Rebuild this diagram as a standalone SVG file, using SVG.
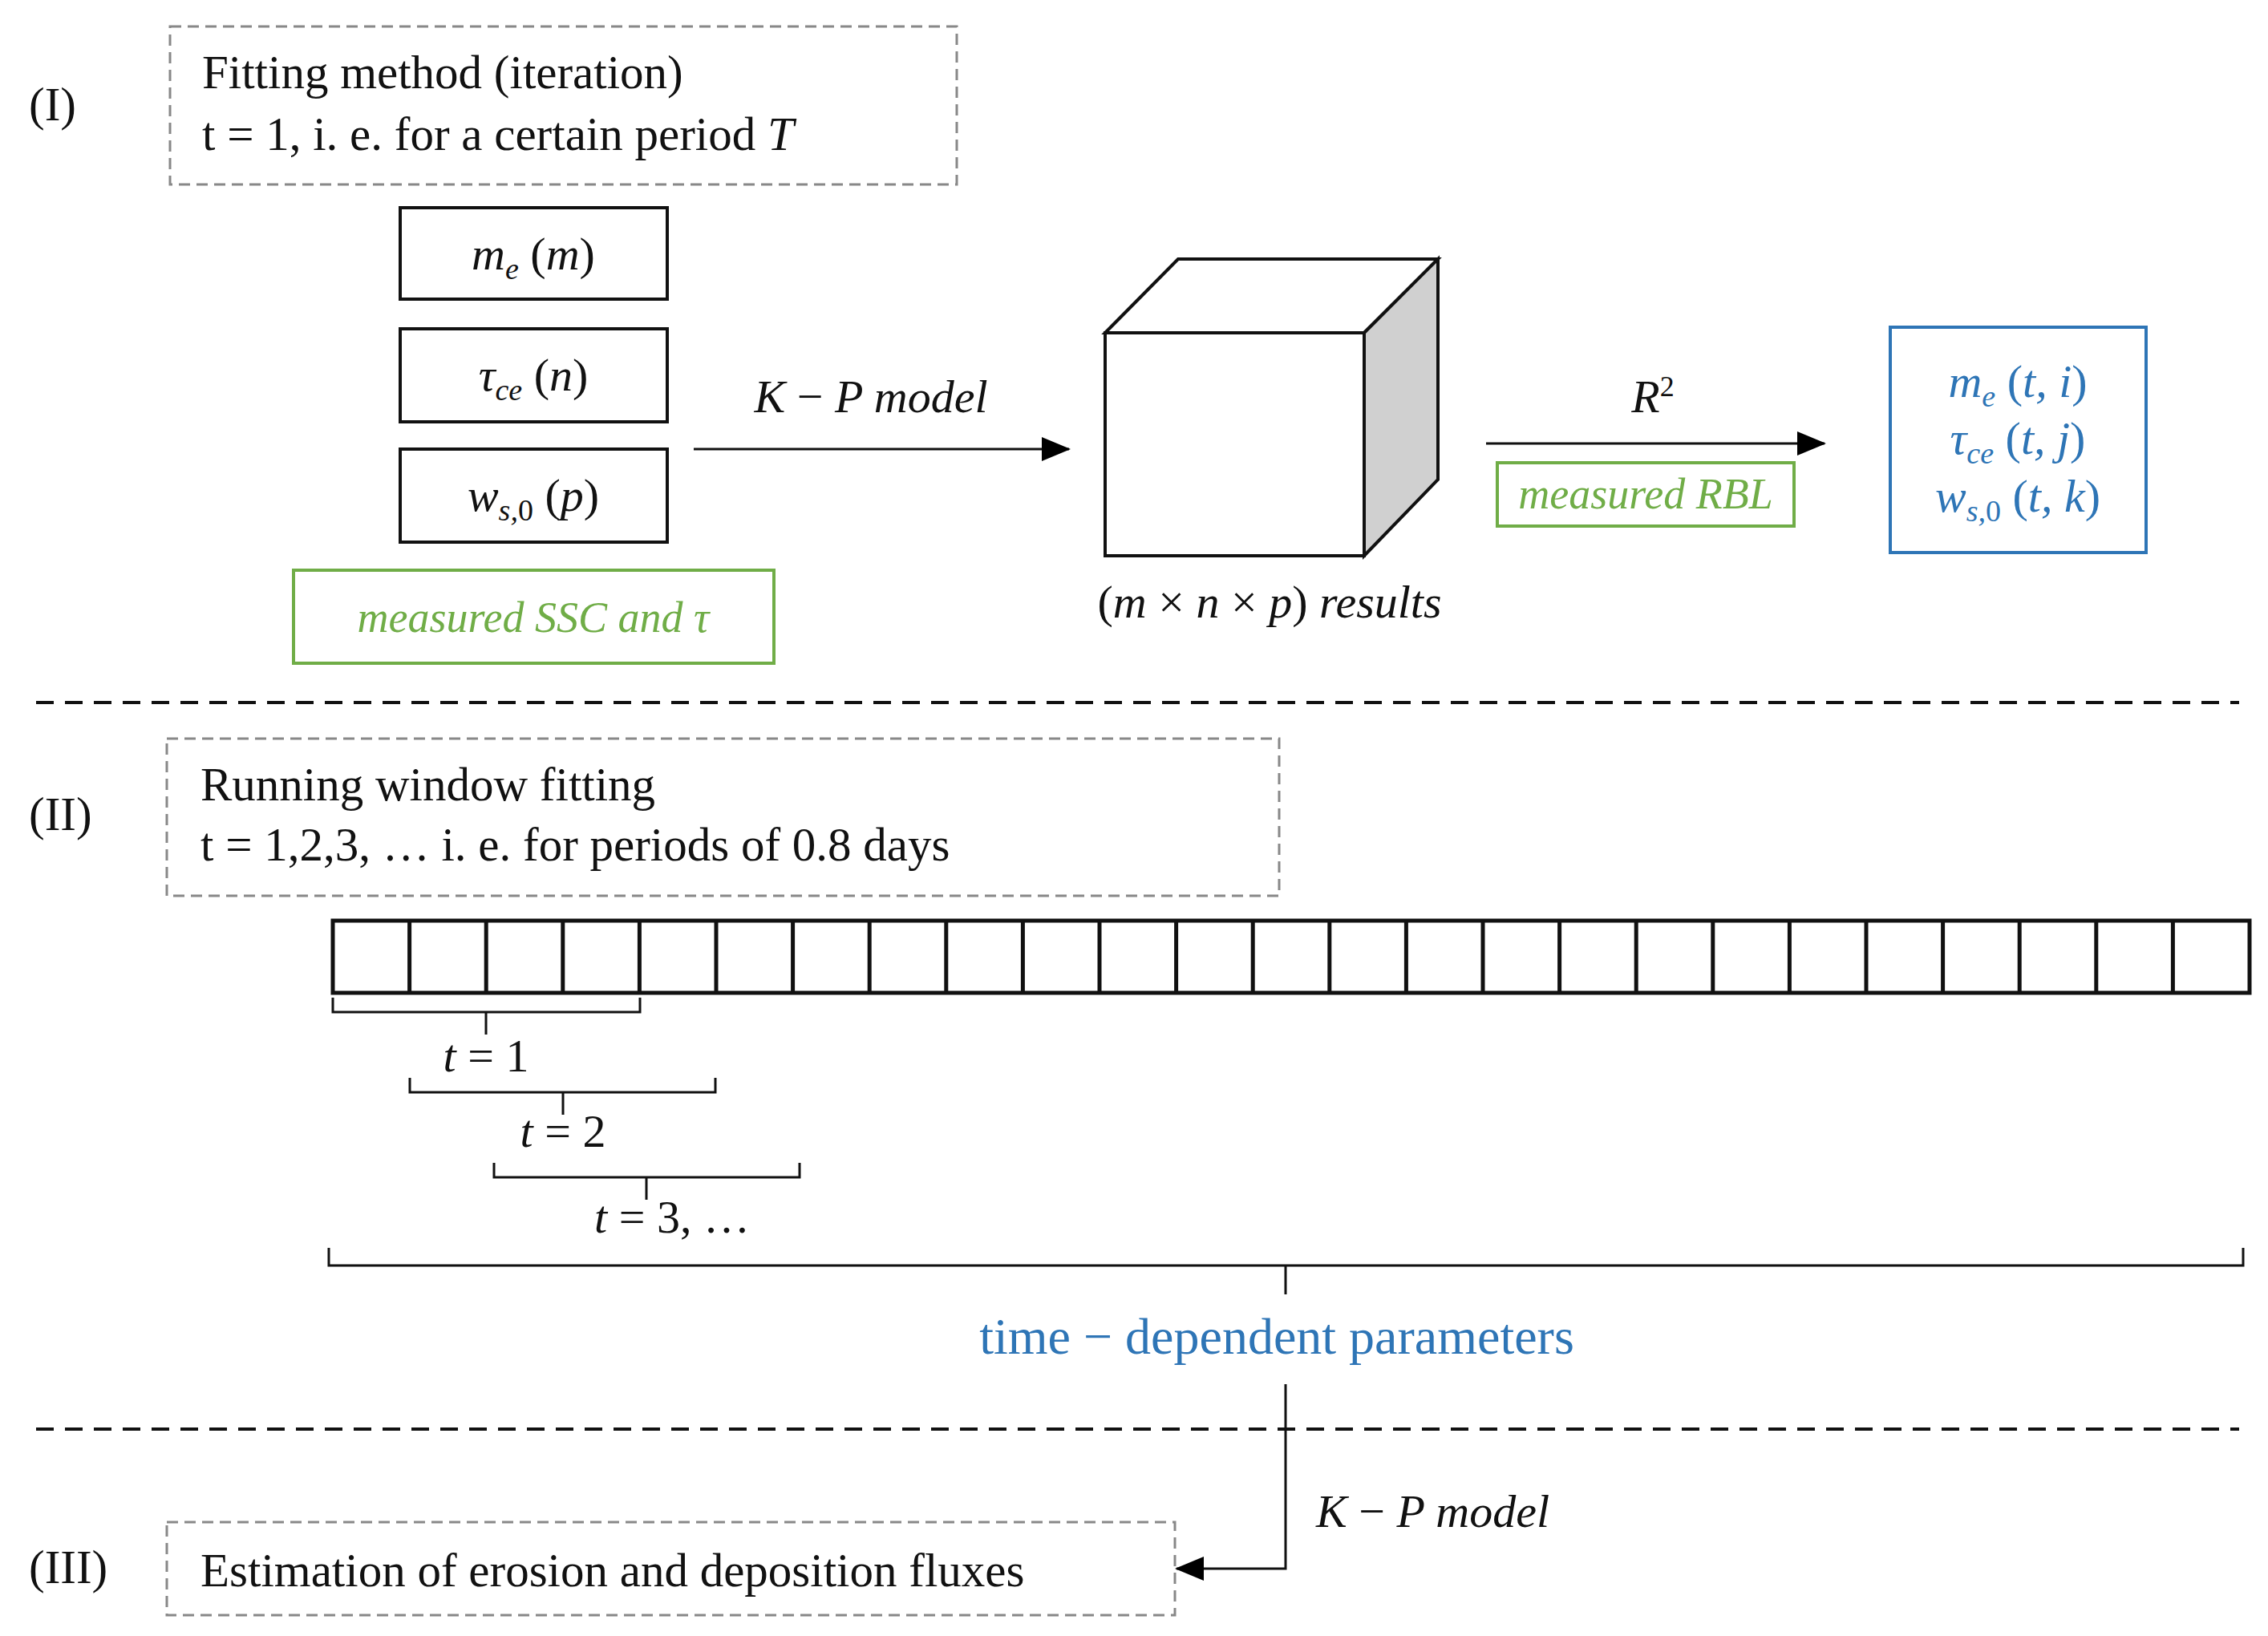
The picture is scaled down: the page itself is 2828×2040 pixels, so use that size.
<svg xmlns="http://www.w3.org/2000/svg" width="2828" height="2040" viewBox="0 0 2828 2040">
<defs>
<marker id="ah" markerWidth="36" markerHeight="30" refX="34" refY="15" orient="auto" markerUnits="userSpaceOnUse" viewBox="0 0 36 30"><path d="M0,0 L36,15 L0,30 z" fill="#000"/></marker>
<style>
text{font-family:"Liberation Serif",serif;}
.t{font-size:59px;fill:#111;}
.m{font-size:58px;font-style:italic;fill:#111;}
.g{font-size:54px;font-style:italic;fill:#70ad47;}
.b{fill:#2e75b6;}
.dbox{fill:none;stroke:#888;stroke-width:3;stroke-dasharray:14,8;}
.box{fill:#fff;stroke:#111;stroke-width:4;}
.gbox{fill:none;stroke:#70ad47;stroke-width:4;}
.sep{stroke:#111;stroke-width:4;stroke-dasharray:22,14;}
.ln{fill:none;stroke:#111;stroke-width:3;}
</style>
</defs>
<rect width="2828" height="2040" fill="#fff"/>
<g id="labels">
<text class="t" x="36" y="150">(I)</text>
<text class="t" x="36" y="1035">(II)</text>
<text class="t" x="36" y="1974">(III)</text>
</g>
<g id="sep"><line class="sep" x1="45" y1="876" x2="2792" y2="876"/><line class="sep" x1="45" y1="1782" x2="2792" y2="1782"/></g>
<g id="boxI"><rect class="dbox" x="212" y="33" width="981" height="197"/>
<text class="t" x="252" y="110">Fitting method (iteration)</text>
<text class="t" x="252" y="187">t = 1, i. e. for a certain period <tspan font-style="italic">T</tspan></text></g>
<g id="me"><rect class="box" x="499" y="259" width="333" height="114"/><text class="m" x="665" y="336" text-anchor="middle">m<tspan font-size="38" dy="12">e</tspan><tspan dy="-12" font-style="normal"> (</tspan>m<tspan font-style="normal">)</tspan></text></g>
<g id="tau"><rect class="box" x="499" y="410" width="333" height="116"/><text class="m" x="665" y="487" text-anchor="middle">τ<tspan font-size="38" dy="12">ce</tspan><tspan dy="-12" font-style="normal"> (</tspan>n<tspan font-style="normal">)</tspan></text></g>
<g id="ws"><rect class="box" x="499" y="560" width="333" height="116"/><text class="m" x="665" y="637" text-anchor="middle">w<tspan font-size="38" dy="12">s,<tspan font-style="normal">0</tspan></tspan><tspan dy="-12" font-style="normal"> (</tspan>p<tspan font-style="normal">)</tspan></text></g>
<g id="ssc"><rect class="gbox" x="366" y="711" width="599" height="116"/><text class="g" x="665" y="788" text-anchor="middle">measured SSC and τ</text></g>
<g id="cube">
<polygon points="1378,415 1469,323 1793,323 1701,415" fill="#fff" stroke="#111" stroke-width="4"/>
<polygon points="1701,415 1793,323 1793,598 1701,693" fill="#d0d0d0" stroke="#111" stroke-width="4"/>
<rect class="box" x="1378" y="415" width="323" height="278"/>
<text class="m" x="1583" y="770" text-anchor="middle"><tspan font-style="normal">(</tspan>m <tspan font-style="normal">×</tspan> n <tspan font-style="normal">×</tspan> p<tspan font-style="normal">)</tspan> results</text>
</g>
<g id="rbl"><rect class="gbox" x="1867" y="577" width="370" height="79"/><text class="g" x="2052" y="634" text-anchor="middle">measured RBL</text></g>
<g id="out"><rect fill="none" stroke="#2e75b6" stroke-width="4" x="2357" y="408" width="319" height="281"/>
<text class="m b" x="2516" y="495" text-anchor="middle">m<tspan font-size="38" dy="12">e</tspan><tspan dy="-12" font-style="normal"> (</tspan>t, i<tspan font-style="normal">)</tspan></text>
<text class="m b" x="2516" y="566" text-anchor="middle">τ<tspan font-size="38" dy="12">ce</tspan><tspan dy="-12" font-style="normal"> (</tspan>t, j<tspan font-style="normal">)</tspan></text>
<text class="m b" x="2516" y="638" text-anchor="middle">w<tspan font-size="38" dy="12">s,<tspan font-style="normal">0</tspan></tspan><tspan dy="-12" font-style="normal"> (</tspan>t, k<tspan font-style="normal">)</tspan></text></g>
<g id="boxII"><rect class="dbox" x="208" y="921" width="1387" height="196"/>
<text class="t" x="250" y="998">Running window fitting</text>
<text class="t" x="250" y="1073">t = 1,2,3, … i. e. for periods of 0.8 days</text></g>
<g id="strip" fill="none" stroke="#111" stroke-width="5">
<rect x="415" y="1148" width="2390" height="90"/>
<path d="M510.6,1148V1238M606.2,1148V1238M701.8,1148V1238M797.4,1148V1238M893,1148V1238M988.6,1148V1238M1084.2,1148V1238M1179.8,1148V1238M1275.4,1148V1238M1371,1148V1238M1466.6,1148V1238M1562.2,1148V1238M1657.8,1148V1238M1753.4,1148V1238M1849,1148V1238M1944.6,1148V1238M2040.2,1148V1238M2135.8,1148V1238M2231.4,1148V1238M2327,1148V1238M2422.6,1148V1238M2518.2,1148V1238M2613.8,1148V1238M2709.4,1148V1238"/>
</g>
<g id="brackets">
<path class="ln" d="M415,1244 V1262 H798 V1244 M606,1262 V1290"/>
<text class="m" x="606" y="1336" text-anchor="middle" font-size="42">t <tspan font-style="normal">= 1</tspan></text>
<path class="ln" d="M511,1344 V1362 H892 V1344 M702,1362 V1390"/>
<text class="m" x="702" y="1430" text-anchor="middle" font-size="42">t <tspan font-style="normal">= 2</tspan></text>
<path class="ln" d="M616,1450 V1468 H997 V1450 M806,1468 V1496"/>
<text class="m" x="838" y="1537" text-anchor="middle" font-size="42">t <tspan font-style="normal">= 3, …</tspan></text>
<path class="ln" d="M410,1556 V1578 H2797 V1556 M1603,1578 V1614"/>
<text class="b" x="1592" y="1688" text-anchor="middle" font-size="64">time − dependent parameters</text>
</g>
<g id="boxIII"><rect class="dbox" x="208" y="1898" width="1257" height="116"/>
<text class="t" x="250" y="1978" font-size="63">Estimation of erosion and deposition fluxes</text></g>
<g id="connectors">
<line x1="865" y1="560" x2="1333" y2="560" stroke="#111" stroke-width="3" marker-end="url(#ah)"/>
<text class="m" x="1086" y="514" text-anchor="middle">K <tspan font-style="normal">−</tspan> P model</text>
<line x1="1853" y1="553" x2="2275" y2="553" stroke="#111" stroke-width="3" marker-end="url(#ah)"/>
<text class="m" x="2061" y="514" text-anchor="middle">R<tspan font-size="36" font-style="normal" dy="-20">2</tspan></text>
<path d="M1603,1726 V1956 H1467" fill="none" stroke="#111" stroke-width="3" marker-end="url(#ah)"/>
<text class="m" x="1641" y="1904">K <tspan font-style="normal">−</tspan> P model</text>
</g>
</svg>
